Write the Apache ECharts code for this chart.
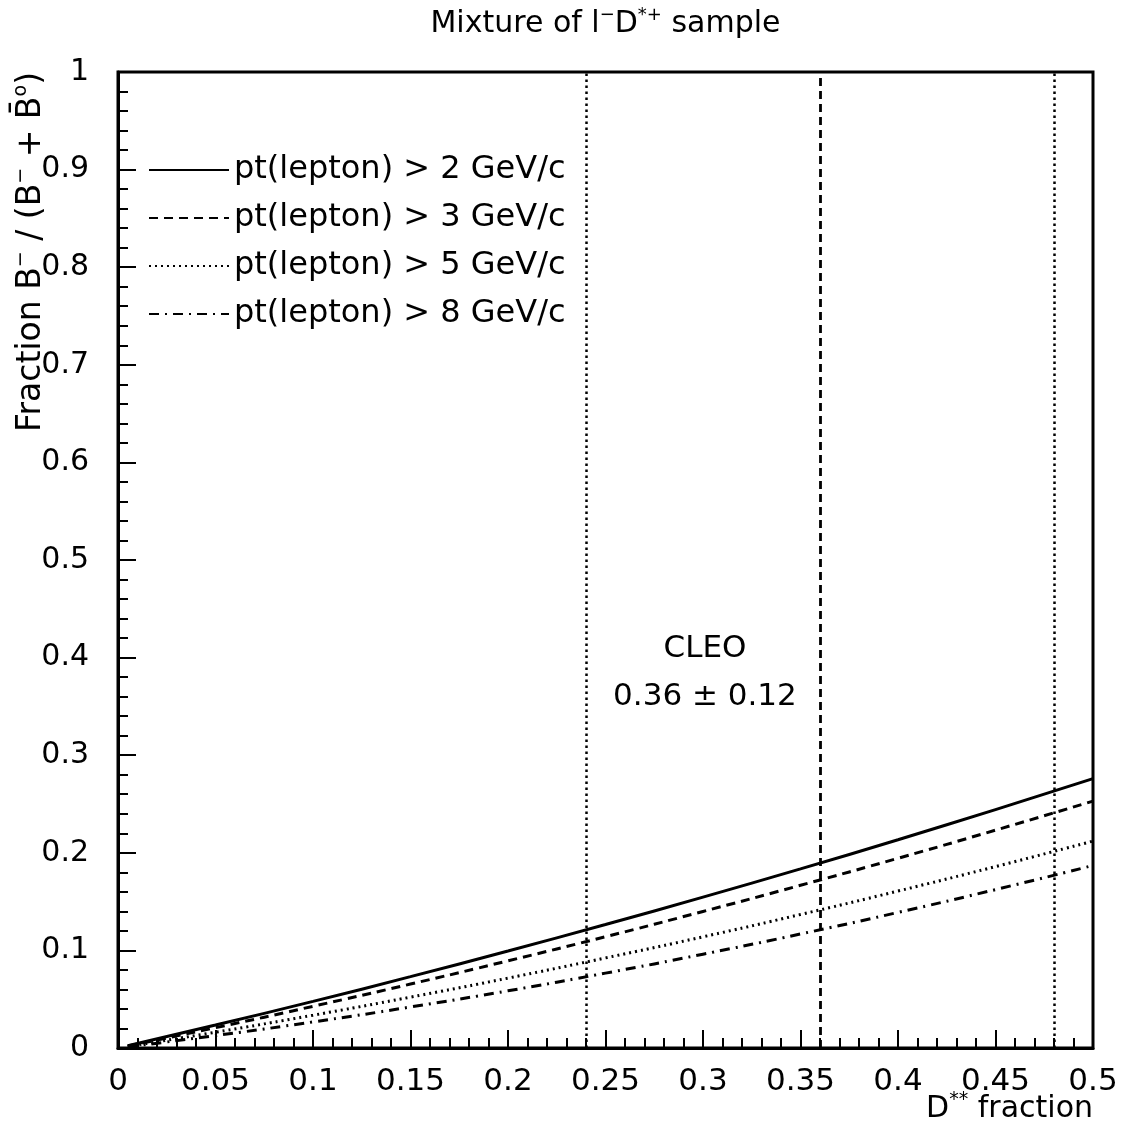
<!DOCTYPE html>
<html>
<head>
<meta charset="utf-8">
<script src="https://cdn.jsdelivr.net/npm/echarts@6/dist/echarts.min.js"></script>
<style>
html,body{margin:0;padding:0;background:#fff;}
#c{width:1126px;height:1131px;}
</style>
</head>
<body>
<div id="c"></div>
<script>
// D** fraction values (x)
const xVals = [0.005, 0.05, 0.10, 0.15, 0.20, 0.25, 0.30, 0.35, 0.40, 0.45, 0.50];
// Fraction B-/(B- + B0bar) for each lepton pt cut
const pt2 = [0.0023, 0.0235, 0.0478, 0.0731, 0.0994, 0.1265, 0.1546, 0.1835, 0.2134, 0.2443, 0.2760];
const pt3 = [0.0020, 0.0208, 0.0427, 0.0655, 0.0893, 0.1140, 0.1399, 0.1667, 0.1944, 0.2232, 0.2530];
const pt5 = [0.0016, 0.0162, 0.0336, 0.0521, 0.0716, 0.0923, 0.1139, 0.1368, 0.1608, 0.1859, 0.2120];
const pt8 = [0.0012, 0.0127, 0.0267, 0.0420, 0.0586, 0.0767, 0.0961, 0.1168, 0.1389, 0.1623, 0.1870];
const seriesNames = ['pt(lepton) > 2 GeV/c', 'pt(lepton) > 3 GeV/c', 'pt(lepton) > 5 GeV/c', 'pt(lepton) > 8 GeV/c'];
// CLEO measurement: central value and band edges
const cleoLines = [0.24, 0.36, 0.48];
const cleoText = ['CLEO', '0.36 \u00b1 0.12'];
const cleoTextPos = [[0.301, 0.409], [0.301, 0.360]];
const xTicks = {min: 0, max: 0.5, interval: 0.05};
const yTicks = {min: 0, max: 1, interval: 0.1};

const FONT = 'DejaVu Sans';
const pair = arr => arr.map((v, i) => [xVals[i], v]);
const styles = [
  {type: 'solid', width: 3},
  {type: [9, 6], width: 3},
  {type: [2, 4], width: 3},
  {type: [10, 6, 2, 6], width: 3}
];
const allData = [pt2, pt3, pt5, pt8];

const chart = echarts.init(document.getElementById('c'), null, {renderer: 'canvas'});

const series = allData.map((d, i) => ({
  name: seriesNames[i],
  type: 'line',
  data: pair(d),
  smooth: true,
  symbol: 'none',
  lineStyle: Object.assign({color: '#000'}, styles[i]),
  itemStyle: {color: '#000'},
  animation: false
}));
series[0].markLine = {
  silent: true,
  symbol: ['none', 'none'],
  label: {show: false},
  animation: false,
  data: [
    {xAxis: cleoLines[0], lineStyle: {color: '#000', type: [2.5, 3.5], width: 2.5}},
    {xAxis: cleoLines[1], lineStyle: {color: '#000', type: [8, 5], width: 2.8}},
    {xAxis: cleoLines[2], lineStyle: {color: '#000', type: [2.5, 3.5], width: 2.5}}
  ]
};

chart.setOption({
  backgroundColor: '#fff',
  animation: false,
  legend: {
    orient: 'vertical',
    left: 148,
    top: 154,
    padding: 0,
    itemWidth: 80,
    itemHeight: 32,
    itemGap: 16,
    itemStyle: {opacity: 0},
    textStyle: {fontFamily: FONT, fontSize: 32, color: '#000', lineHeight: 32},
    data: seriesNames
  },
  grid: {left: 118, right: 33, top: 72, bottom: 83, show: true, borderColor: '#000', borderWidth: 3, backgroundColor: 'transparent'},
  xAxis: {
    type: 'value',
    min: xTicks.min, max: xTicks.max, interval: xTicks.interval,
    axisLine: {show: true, onZero: false, lineStyle: {color: '#000', width: 3}},
    axisTick: {show: true, inside: true, length: 18, lineStyle: {color: '#000', width: 2}},
    minorTick: {show: true, splitNumber: 5, length: 10, lineStyle: {color: '#000', width: 2}},
    splitLine: {show: false},
    axisLabel: {
      fontFamily: FONT, fontSize: 31, color: '#000', margin: 18,
      formatter: v => String(+v.toFixed(2))
    }
  },
  yAxis: {
    type: 'value',
    min: yTicks.min, max: yTicks.max, interval: yTicks.interval,
    axisLine: {show: true, onZero: false, lineStyle: {color: '#000', width: 3}},
    axisTick: {show: true, inside: true, length: 18, lineStyle: {color: '#000', width: 2}},
    minorTick: {show: true, splitNumber: 5, length: 10, lineStyle: {color: '#000', width: 2}},
    splitLine: {show: false},
    axisLabel: {
      fontFamily: FONT, fontSize: 30, color: '#000', margin: 29,
      formatter: v => String(+v.toFixed(1))
    }
  },
  series: series
});

const p0 = chart.convertToPixel({gridIndex: 0}, cleoTextPos[0]);
const p1 = chart.convertToPixel({gridIndex: 0}, cleoTextPos[1]);
const xEnd = chart.convertToPixel({gridIndex: 0}, [xTicks.max, 0]);
const xStart = chart.convertToPixel({gridIndex: 0}, [xTicks.min, 0]);
const yTop = chart.convertToPixel({gridIndex: 0}, [0, yTicks.max]);
const sup = (fs) => ({fontSize: fs, lineHeight: 16, verticalAlign: 'top', fontFamily: FONT, fill: '#000'});

chart.setOption({
  graphic: [
    {type: 'text', x: (xStart[0] + xEnd[0]) / 2, y: 6, style: {
      text: 'Mixture of l{sup|\u2212}D{sup|*+} sample', fontFamily: FONT, fontSize: 30, fill: '#000', align: 'center', verticalAlign: 'top', lineHeight: 36,
      rich: {sup: sup(18)}
    }},
    {type: 'text', x: p0[0], y: p0[1], style: {text: cleoText[0], fontFamily: FONT, fontSize: 31, fill: '#000', align: 'center', verticalAlign: 'middle'}},
    {type: 'text', x: p1[0], y: p1[1], style: {text: cleoText[1], fontFamily: FONT, fontSize: 31, fill: '#000', align: 'center', verticalAlign: 'middle'}},
    {type: 'text', x: xEnd[0], y: 1109, style: {
      text: 'D{sup|**} fraction', fontFamily: FONT, fontSize: 30, fill: '#000', align: 'right', verticalAlign: 'middle', lineHeight: 36,
      rich: {sup: sup(19)}
    }},
    {type: 'text', x: 12, y: yTop[1], rotation: Math.PI / 2, style: {
      text: 'Fraction B{sup|\u2212} / (B{sup|\u2212} + B\u0304{sup|o})', fontFamily: FONT, fontSize: 33, fill: '#000', align: 'right', verticalAlign: 'top', lineHeight: 38,
      rich: {sup: sup(19)}
    }}
  ]
});
</script>
</body>
</html>
